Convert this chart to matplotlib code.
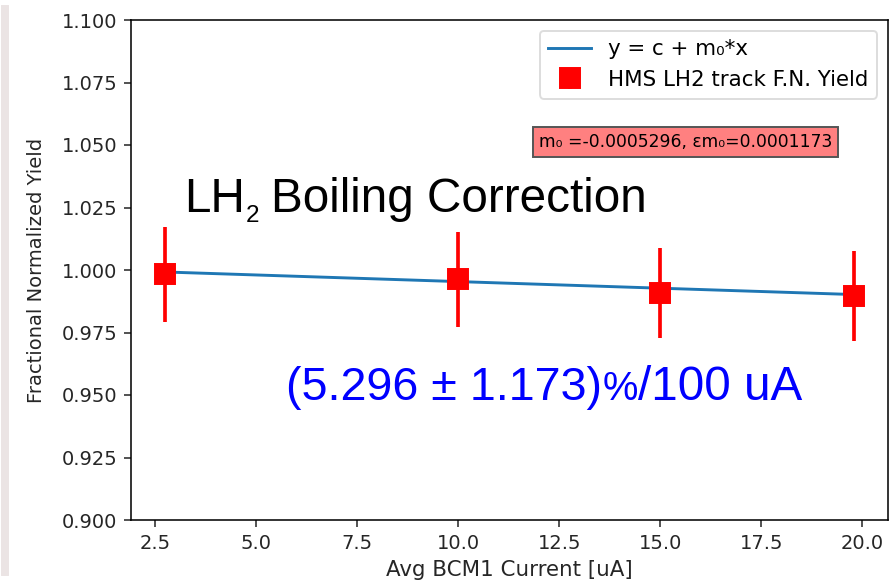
import matplotlib
matplotlib.use("Agg")
import matplotlib.pyplot as plt
import numpy as np
from matplotlib.patches import Rectangle

# Data
current = [2.75, 9.98, 14.99, 19.78]
yield_vals = [0.9984, 0.9964, 0.9908, 0.9896]
yield_err = [0.019, 0.019, 0.018, 0.018]
slope_m0 = -0.0005296
slope_err = 0.0001173
intercept_c = 1.00066
xticks = [2.5, 5.0, 7.5, 10.0, 12.5, 15.0, 17.5, 20.0]
yticks = [0.900, 0.925, 0.950, 0.975, 1.000, 1.025, 1.050, 1.075, 1.100]

DPI = 140
W, H = 890, 581
fig = plt.figure(figsize=(W / DPI, H / DPI), dpi=DPI)
ax = fig.add_axes([131 / W, 1 - 520 / H, (888 - 131) / W, 500 / H])

# left grey strip
fig.patches.append(Rectangle((2 / W, 0.01), 6 / W, 0.98, transform=fig.transFigure,
                             color='#ebe4e4', zorder=0))

xs = np.array([min(current), max(current)])
ax.plot(xs, intercept_c + slope_m0 * xs, color='#1f77b4', lw=1.5,
        label='y = c + m\u2080*x', zorder=2)
ax.errorbar(current, yield_vals, yerr=yield_err, fmt='s', color='red',
            ecolor='red', elinewidth=1.9, markersize=10, label='HMS LH2 track F.N. Yield',
            zorder=3)

ax.set_ylim(0.9, 1.1)
ax.set_yticks(yticks)
ax.set_yticklabels([f"{v:.3f}" for v in yticks])
ax.set_xticks(xticks)
ax.set_xticklabels([f"{v:.1f}" for v in xticks])
ax.tick_params(labelsize=10, colors='#262626', labelcolor='#262626')
ax.set_xlabel('Avg BCM1 Current [uA]', fontsize=11, color='#262626')
ax.set_ylabel('Fractional Normalized Yield', fontsize=10, color='#262626', labelpad=8)

ax.legend(loc='upper right', fontsize=11, framealpha=1, edgecolor='#dddddd')

ax.text(0.7325, 0.756, f'm\u2080 =-{abs(slope_m0):.7f}, \u03b5m\u2080={slope_err:.7f}',
        transform=ax.transAxes, ha='center', va='center', fontsize=8.8,
        bbox=dict(boxstyle='square,pad=0.35', facecolor='#ff8080', edgecolor='#555555'))

# Annotation texts
fam = 'Liberation Sans'
def fx(px):
    return px / W
def fy(py):
    return 1 - py / H

fig.text(fx(184), fy(212), 'LH', fontsize=24.5, family=fam, va='baseline', color='black')
fig.text(fx(246), fy(222), '2', fontsize=12.5, family=fam, va='baseline', color='black')
fig.text(fx(271), fy(212), 'Boiling Correction', fontsize=24.5, family=fam,
         va='baseline', color='black')

blue = '#0000ff'
fig.canvas.draw()
r = fig.canvas.get_renderer()
t1 = fig.text(fx(286), fy(400), f'(5.296 \u00b1 1.173)', fontsize=24, family=fam,
              va='baseline', color=blue)
bb = t1.get_window_extent(r)
t2 = fig.text(bb.x1 / W + 1 / W, fy(400), '%', fontsize=20.5, family=fam,
              va='baseline', color=blue)
bb2 = t2.get_window_extent(r)
fig.text(bb2.x1 / W, fy(400), '/100 uA', fontsize=24.5, family=fam,
         va='baseline', color=blue)

fig.savefig('out.png', dpi=DPI)
